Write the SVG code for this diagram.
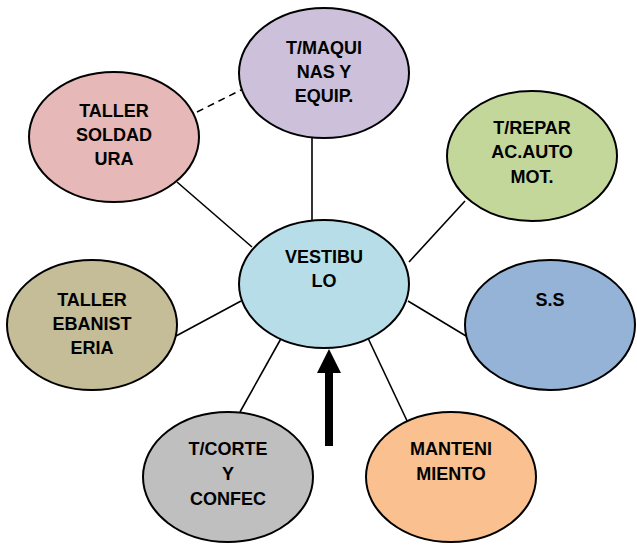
<svg xmlns="http://www.w3.org/2000/svg" width="637" height="550" viewBox="0 0 637 550">
<style>
.n{stroke:#000;stroke-width:2}
.t{font-family:"Liberation Sans",Arial,sans-serif;font-weight:bold;font-size:18px;text-anchor:middle;fill:#000}
.c{stroke:#000;stroke-width:1.6;fill:none}
</style>
<rect width="637" height="550" fill="#fff"/>
<g id="connectors">
<line class="c" x1="312" y1="138" x2="312" y2="221"/>
<line class="c" x1="197" y1="112" x2="241" y2="90" stroke-dasharray="7,5"/>
<line class="c" x1="177" y1="182" x2="252" y2="247"/>
<line class="c" x1="465" y1="201" x2="409" y2="262"/>
<line class="c" x1="176" y1="336" x2="241" y2="301"/>
<line class="c" x1="240" y1="412" x2="283" y2="335"/>
<line class="c" x1="408" y1="301" x2="466" y2="336"/>
<line class="c" x1="367" y1="336" x2="409" y2="425"/>
<polygon points="325,446 333,446 333,373 341,373 329,349 317,373 325,373" fill="#000"/>
</g>
<g id="node-maquinas">
<ellipse class="n" cx="324" cy="73" rx="85" ry="65" fill="#CCC0DA"/>
<text class="t" x="324" y="54">T/MAQUI</text>
<text class="t" x="324" y="78">NAS Y</text>
<text class="t" x="324" y="102">EQUIP.</text>
</g>
<g id="node-soldadura">
<ellipse class="n" cx="114" cy="137" rx="85" ry="65" fill="#E6B8B7"/>
<text class="t" x="114" y="117">TALLER</text>
<text class="t" x="114" y="141">SOLDAD</text>
<text class="t" x="114" y="165">URA</text>
</g>
<g id="node-reparac">
<ellipse class="n" cx="532" cy="156" rx="85" ry="65" fill="#C4D79B"/>
<text class="t" x="532" y="134">T/REPAR</text>
<text class="t" x="532" y="158">AC.AUTO</text>
<text class="t" x="532" y="183">MOT.</text>
</g>
<g id="node-vestibulo">
<ellipse class="n" cx="324" cy="284" rx="85" ry="64" fill="#B7DEE8"/>
<text class="t" x="324" y="263">VESTIBU</text>
<text class="t" x="324" y="287">LO</text>
</g>
<g id="node-ebanisteria">
<ellipse class="n" cx="92" cy="325" rx="85" ry="65" fill="#C4BD97"/>
<text class="t" x="92" y="306">TALLER</text>
<text class="t" x="92" y="330">EBANIST</text>
<text class="t" x="92" y="354">ERIA</text>
</g>
<g id="node-ss">
<ellipse class="n" cx="550" cy="325" rx="85" ry="65" fill="#95B3D7"/>
<text class="t" x="550" y="306">S.S</text>
</g>
<g id="node-corte">
<ellipse class="n" cx="228" cy="477" rx="85" ry="65" fill="#BFBFBF"/>
<text class="t" x="228" y="455">T/CORTE</text>
<text class="t" x="228" y="480">Y</text>
<text class="t" x="228" y="505">CONFEC</text>
</g>
<g id="node-mantenimiento">
<ellipse class="n" cx="451" cy="477" rx="85" ry="65" fill="#FAC090"/>
<text class="t" x="451" y="455">MANTENI</text>
<text class="t" x="451" y="480">MIENTO</text>
</g>
</svg>
